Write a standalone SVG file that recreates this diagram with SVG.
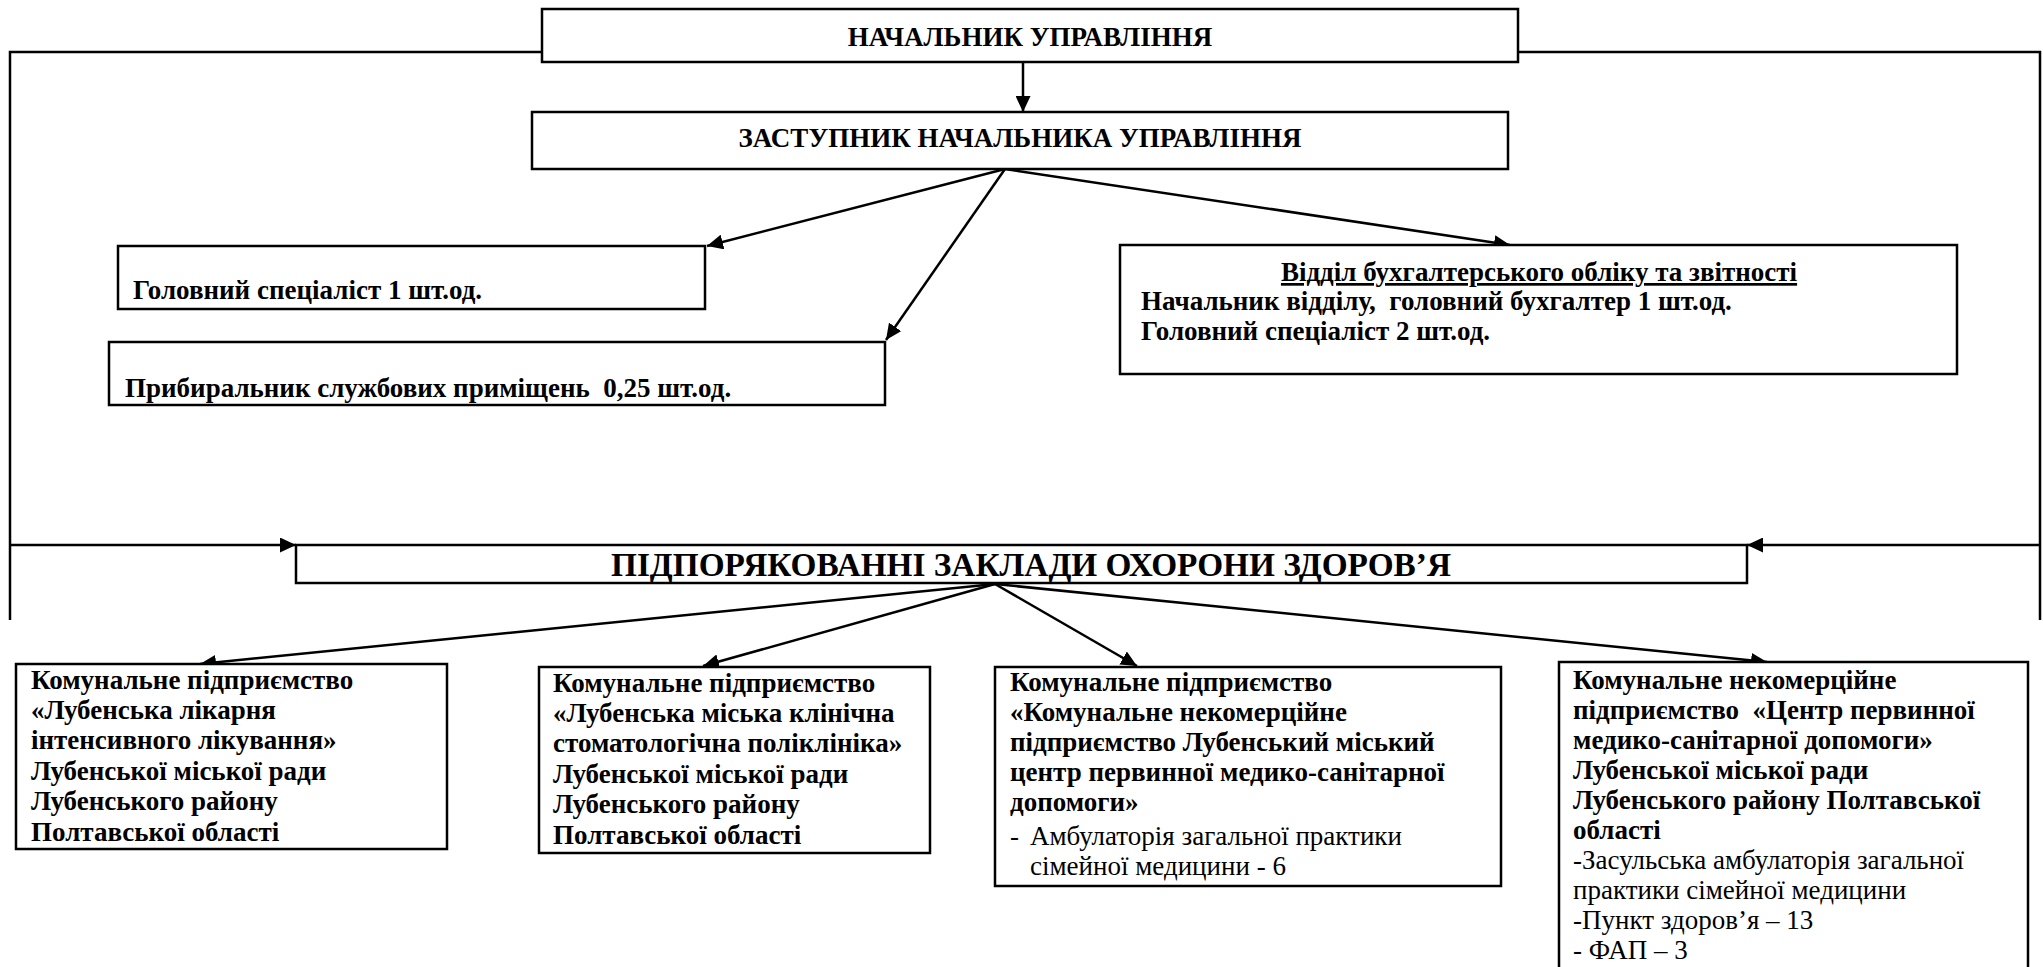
<svg xmlns="http://www.w3.org/2000/svg" width="2043" height="967" viewBox="0 0 2043 967">
<defs>
<marker id="ah" markerUnits="userSpaceOnUse" markerWidth="17" markerHeight="15" refX="16" refY="7.5" orient="auto">
<path d="M0,0 L16,7.5 L0,15 z" fill="#000"/>
</marker>
<style>
.box{fill:#fff;stroke:#000;stroke-width:2.5}
.ln{fill:none;stroke:#000;stroke-width:2.5}
.ar{fill:none;stroke:#000;stroke-width:2.5;marker-end:url(#ah)}
text{font-family:"Liberation Serif","Times New Roman",serif;fill:#000;white-space:pre}
.t1{font-size:27px;font-weight:bold}
.t2{font-size:33.3px;font-weight:bold}
.b{font-size:27px;font-weight:bold}
.r{font-size:27px}
</style>
</defs>
<rect width="2043" height="967" fill="#fff"/>
<g id="connectors">
<polyline class="ln" points="542,52 10,52 10,620"/>
<polyline class="ln" points="1518,52 2040,52 2040,620"/>
<line class="ar" x1="10" y1="545" x2="296" y2="545"/>
<line class="ar" x1="2040" y1="545" x2="1747" y2="545"/>
<line class="ar" x1="1023" y1="62" x2="1023" y2="112"/>
<line class="ar" x1="1005" y1="169" x2="707" y2="246"/>
<line class="ar" x1="1005" y1="169" x2="886" y2="340"/>
<line class="ar" x1="1005" y1="169" x2="1510" y2="245"/>
<line class="ar" x1="995" y1="584" x2="200" y2="664"/>
<line class="ar" x1="995" y1="584" x2="703" y2="666"/>
<line class="ar" x1="995" y1="584" x2="1137" y2="666"/>
<line class="ar" x1="995" y1="584" x2="1767" y2="662"/>
</g>
<g id="head">
<rect class="box" x="542" y="9" width="976" height="53"/>
<text class="t1" x="1030" y="46" text-anchor="middle">НАЧАЛЬНИК УПРАВЛІННЯ</text>
</g>
<g id="deputy">
<rect class="box" x="532" y="112" width="976" height="57"/>
<text class="t1" x="1020" y="147" text-anchor="middle">ЗАСТУПНИК НАЧАЛЬНИКА УПРАВЛІННЯ</text>
</g>
<g id="chief-specialist">
<rect class="box" x="118" y="246" width="587" height="63"/>
<text class="b" x="133" y="299">Головний спеціаліст 1 шт.од.</text>
</g>
<g id="cleaner">
<rect class="box" x="109" y="342" width="776" height="63"/>
<text class="b" x="125" y="397">Прибиральник службових приміщень  0,25 шт.од.</text>
</g>
<g id="accounting">
<rect class="box" x="1120" y="245" width="837" height="129"/>
<text class="b" x="1539" y="281" text-anchor="middle" text-decoration="underline">Відділ бухгалтерського обліку та звітності</text>
<text class="b" x="1141" y="310">Начальник відділу,  головний бухгалтер 1 шт.од.</text>
<text class="b" x="1141" y="340">Головний спеціаліст 2 шт.од.</text>
</g>
<g id="institutions">
<rect class="box" x="296" y="545" width="1451" height="38"/>
<text class="t2" x="1031" y="576" text-anchor="middle">ПІДПОРЯКОВАННІ ЗАКЛАДИ ОХОРОНИ ЗДОРОВ’Я</text>
</g>
<g id="hospital">
<rect class="box" x="16" y="664" width="431" height="185"/>
<text class="b" x="31" y="689">Комунальне підприємство</text>
<text class="b" x="31" y="719">«Лубенська лікарня</text>
<text class="b" x="31" y="749">інтенсивного лікування»</text>
<text class="b" x="31" y="780">Лубенської міської ради</text>
<text class="b" x="31" y="810">Лубенського району</text>
<text class="b" x="31" y="841">Полтавської області</text>
</g>
<g id="dental">
<rect class="box" x="539" y="667" width="391" height="186"/>
<text class="b" x="553" y="692">Комунальне підприємство</text>
<text class="b" x="553" y="722">«Лубенська міська клінічна</text>
<text class="b" x="553" y="752">стоматологічна поліклініка»</text>
<text class="b" x="553" y="783">Лубенської міської ради</text>
<text class="b" x="553" y="813">Лубенського району</text>
<text class="b" x="553" y="844">Полтавської області</text>
</g>
<g id="primary-care-city">
<rect class="box" x="995" y="667" width="506" height="219"/>
<text class="b" x="1010" y="691">Комунальне підприємство</text>
<text class="b" x="1010" y="721">«Комунальне некомерційне</text>
<text class="b" x="1010" y="751">підприємство Лубенський міський</text>
<text class="b" x="1010" y="781">центр первинної медико-санітарної</text>
<text class="b" x="1010" y="811">допомоги»</text>
<text class="r" x="1010" y="845">-</text>
<text class="r" x="1030" y="845">Амбулаторія загальної практики</text>
<text class="r" x="1030" y="875">сімейної медицини - 6</text>
</g>
<g id="primary-care-center">
<rect class="box" x="1559" y="662" width="469" height="330"/>
<text class="b" x="1573" y="689">Комунальне некомерційне</text>
<text class="b" x="1573" y="719">підприємство  «Центр первинної</text>
<text class="b" x="1573" y="749">медико-санітарної допомоги»</text>
<text class="b" x="1573" y="779">Лубенської міської ради</text>
<text class="b" x="1573" y="809">Лубенського району Полтавської</text>
<text class="b" x="1573" y="839">області</text>
<text class="r" x="1573" y="869">-Засульська амбулаторія загальної</text>
<text class="r" x="1573" y="899">практики сімейної медицини</text>
<text class="r" x="1573" y="929">-Пункт здоров’я – 13</text>
<text class="r" x="1573" y="959">- ФАП – 3</text>
</g>
</svg>
